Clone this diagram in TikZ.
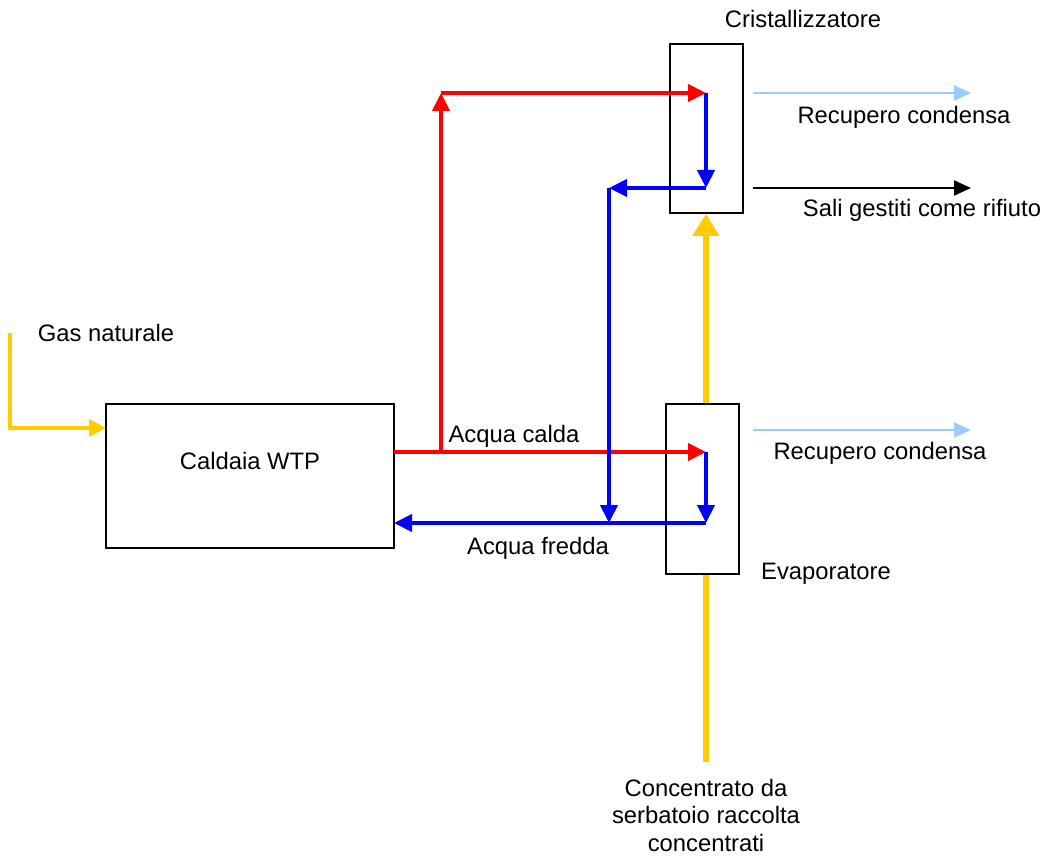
\documentclass[tikz,border=0pt]{standalone}
\usepackage{fontspec}
\setmainfont{Liberation Sans}
\usetikzlibrary{arrows.meta}
\definecolor{hot}{RGB}{255,0,0}
\definecolor{cold}{RGB}{0,0,255}
\definecolor{gold}{RGB}{255,204,0}
\definecolor{lblue}{RGB}{153,204,255}
\begin{document}
\begin{tikzpicture}[x=1pt,y=-1pt,
  box/.style={draw=black,line width=2pt,inner sep=0pt},
  lbl/.style={font=\fontsize{23.8}{28}\selectfont,inner sep=0pt,align=center},
  hotline/.style={hot,line width=4pt,-{Triangle[length=18pt,width=17pt]}},
  coldline/.style={cold,line width=4pt,-{Triangle[length=18pt,width=17pt]}},
  feed/.style={gold,line width=6.5pt},
  feedarrow/.style={feed,-{Triangle[length=22pt,width=26pt]}},
  gasline/.style={gold,line width=4.5pt,-{Triangle[length=17pt,width=17pt]}},
  outline/.style={line width=2pt,-{Triangle[length=17pt,width=15pt]}}]
\useasboundingbox (0,0) rectangle (1048,866);
% boxes
\node[box,minimum width=288pt,minimum height=144pt] (cald) at (250,476) {};
\node[lbl] (caldt) at (250,461) {Caldaia WTP};
\node[box,minimum width=73pt,minimum height=170pt] (evap) at (702.5,489) {};
\node[box,minimum width=73pt,minimum height=169pt] (crys) at (706.5,128.5) {};
% labels
\node[lbl] (crysl) at (803,19) {Cristallizzatore};
\node[lbl] (rec1) at (904,117) {Recupero condensa};
\node[lbl] (sali) at (922,210) {Sali gestiti come rifiuto};
\node[lbl] (gasl) at (106,333) {Gas naturale};
\node[lbl] (calda) at (514,436) {Acqua calda};
\node[lbl] (fredda) at (538,548) {Acqua fredda};
\node[lbl] (rec2) at (880,453) {Recupero condensa};
\node[lbl] (evapl) at (826,574) {Evaporatore};
\node[lbl,font=\fontsize{23.8}{27.5}\selectfont] (conc) at (706,815) {Concentrato da\\serbatoio raccolta\\concentrati};
% coordinates
\coordinate (g0) at (10,333);
\coordinate (gin) at (106,428);
\coordinate (hout) at (394,452);
\coordinate (hsplit) at (441,452);
\coordinate (htop) at (441,93);
\coordinate (hcr) at (706,93);
\coordinate (hev) at (706,452);
\coordinate (ccr) at (706,188);
\coordinate (cmid) at (609,188);
\coordinate (cjoin) at (609,523);
\coordinate (cev) at (706,523);
\coordinate (cin) at (394,523);
\coordinate (fbot) at (706,762);
\coordinate (r1a) at (753,93);
\coordinate (r1b) at (971,93);
\coordinate (sa) at (753,188);
\coordinate (sb) at (971,188);
\coordinate (r2a) at (753,430);
\coordinate (r2b) at (971,430);
% gas
\draw[gasline] (g0) |- (gin);
% feed
\draw[feed] (fbot) -- (evap.south -| fbot);
\draw[feedarrow] (evap.north -| fbot) -- (crys.south -| fbot);
% hot water
\draw[hot,line width=4pt] (hout) -- (hsplit);
\draw[hotline] (hsplit) -- (hev);
\draw[hotline] (hsplit) -- (htop);
\draw[hotline] (htop) -- (hcr);
% cold water
\draw[coldline] (hcr) -- (ccr);
\draw[coldline] (ccr) -- (cmid);
\draw[coldline] (cmid) -- (cjoin);
\draw[coldline] (hev) -- (cev);
\draw[coldline] (cev) -- (cin);
% outputs
\draw[outline,lblue] (r1a) -- (r1b);
\draw[outline,black] (sa) -- (sb);
\draw[outline,lblue] (r2a) -- (r2b);
\end{tikzpicture}
\end{document}
